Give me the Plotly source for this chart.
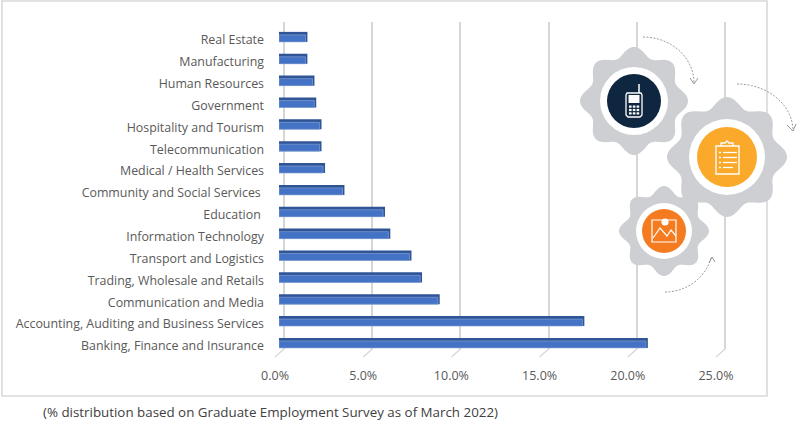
import math
import plotly.graph_objects as go

categories = ["Banking, Finance and Insurance", "Accounting, Auditing and Business Services",
              "Communication and Media", "Trading, Wholesale and Retails", "Transport and Logistics",
              "Information Technology", "Education\u00a0", "Community and Social Services\u00a0",
              "Medical / Health Services", "Telecommunication", "Hospitality and Tourism",
              "Government", "Human Resources", "Manufacturing", "Real Estate"]
values = [20.8, 17.2, 9.0, 8.0, 7.4, 6.2, 5.9, 3.6, 2.5, 2.3, 2.3, 2.0, 1.9, 1.5, 1.5]
tick_values = [0, 5, 10, 15, 20, 25]
tick_labels = ["0.0%", "5.0%", "10.0%", "15.0%", "20.0%", "25.0%"]
note = "(% distribution based on Graduate Employment Survey as of March 2022)"

W, H = 800, 425
FONT = "Open Sans"
def px(x): return x / W
def py(y): return 1 - y / H

PX_PER_UNIT = 17.64
def x_domain(left):
    return [px(left), px(left + 25 * PX_PER_UNIT)]

fig = go.Figure()
idx = list(range(len(categories)))
# carrier for the shifted grid (first subplot, so it sits under the bars)
fig.add_scatter(x=tick_values, y=[0] * 6, xaxis="x", mode="markers", marker_opacity=0,
                hoverinfo="skip", showlegend=False)
# carrier for the tick labels
fig.add_scatter(x=tick_values, y=[0] * 6, xaxis="x2", mode="markers", marker_opacity=0,
                hoverinfo="skip", showlegend=False)
# depth: rear (dark) face first, then the front face
fig.add_bar(y=idx, x=[v + 0.11 for v in values], xaxis="x3", orientation="h", width=0.46, offset=-0.09,
            marker=dict(color="#2F5597", line_width=0), hoverinfo="skip", showlegend=False)
fig.add_bar(y=idx, x=values, xaxis="x3", orientation="h", width=0.32, offset=-0.09,
            marker=dict(color="#4472C4", line=dict(color="#8FAADC", width=0.6)),
            name="Share", showlegend=False)

fig.update_layout(
    template="none",
    width=W, height=H, margin=dict(l=0, r=0, t=0, b=0, pad=0), autosize=False,
    paper_bgcolor="white", plot_bgcolor="rgba(0,0,0,0)", barmode="overlay",
    font=dict(family=FONT, color="#595959", size=12),
    xaxis3=dict(domain=x_domain(279), range=[0, 25], showgrid=False, zeroline=False, automargin=False,
                showticklabels=False, ticks="", anchor="y", showline=False),
    xaxis=dict(domain=[px(284 - PX_PER_UNIT), px(284 + 26 * PX_PER_UNIT)], range=[-1, 26], showgrid=True,
               gridcolor="#D6D6D6", automargin=False, gridwidth=1.5, zeroline=False, tickvals=tick_values,
               showticklabels=False, ticks="", anchor="y", showline=False),
    xaxis2=dict(domain=x_domain(275), range=[0, 25], showgrid=False, zeroline=False, automargin=False,
                tickvals=tick_values, ticktext=tick_labels, ticks="", anchor="y", showline=False,
                tickfont=dict(size=12.5, color="#595959"), ticklabelstandoff=17),
    yaxis=dict(domain=[py(349), py(22)], range=[-(349 - 346) / 21.86, (346 - 22) / 21.86],
               tickvals=idx, ticktext=categories, ticks="", showgrid=False, zeroline=False, automargin=False,
               showline=False, tickfont=dict(size=12.4, color="#595959"), ticklabelstandoff=15,
               anchor="free", position=px(279)),
)

shapes = []
def add(**k):
    k.setdefault("xref", "paper"); k.setdefault("yref", "paper")
    shapes.append(k)

def P(pts, close=False):
    s = "M " + " L ".join(f"{px(x):.5f} {py(y):.5f}" for x, y in pts)
    return s + (" Z" if close else "")

def line(pts, col="white", w=1.3, dash=None, close=False):
    ln = dict(color=col, width=w)
    if dash: ln["dash"] = dash
    add(type="path", path=P(pts, close), line=ln, layer="above")

def fill(pts, col):
    add(type="path", path=P(pts, True), fillcolor=col, line_width=0, layer="above")

def circle(cx, cy, r, col):
    add(type="circle", x0=px(cx - r), x1=px(cx + r), y0=py(cy + r), y1=py(cy - r),
        fillcolor=col, line_width=0, layer="above")

# frame
add(type="rect", x0=px(2), x1=px(767), y0=py(396), y1=py(1), line=dict(color="#D9D9D9", width=1.6),
    layer="below")

# feet of the gridlines
for v in tick_values:
    add(type="line", xref="x", xsizemode="pixel", xanchor=v, x0=-9, x1=0,
        y0=py(357), y1=py(349), line=dict(color="#D6D6D6", width=1.2), layer="below")

def gear(cx, cy, r_out, r_in, lobes=8):
    pts = []
    n = 240
    for i in range(n):
        a = 2 * math.pi * i / n
        k = (1 + math.cos(lobes * a)) / 2
        r = r_in + (r_out - r_in) * k
        pts.append((cx + r * math.sin(a), cy - r * math.cos(a)))
    fill(pts, "#CDCFD3")

def arc(cx, cy, rx, ry, a0, a1, n=30):
    return [(cx + rx * math.cos(math.radians(a0 + (a1 - a0) * i / n)),
             cy + ry * math.sin(math.radians(a0 + (a1 - a0) * i / n))) for i in range(n + 1)]

GR = "#999999"
line(arc(643, 83, 51, 46, -90, 0), GR, 1, "2px,1.5px")
line([(690, 78), (694, 84), (698, 78)], GR, 1)
line(arc(737, 131, 56, 47, -90, 0), GR, 1, "2px,1.5px")
line([(787, 125), (793, 131), (796, 124)], GR, 1)
line(arc(665, 245, 48, 47, 90, 15), GR, 1, "2px,1.5px")
line([(709, 263), (712, 257), (715, 262)], GR, 1)

gear(664, 231, 45, 37)
gear(634, 101, 54, 45)
gear(727, 157, 60, 50)

circle(634, 101, 34, "white"); circle(634, 101, 27, "#0E2640")
circle(727, 157, 38, "white"); circle(727, 157, 30, "#FBA92B")
circle(664, 231, 28, "white"); circle(664, 231, 22, "#F47B20")

# phone icon
line([(627, 93), (641, 93), (642, 95), (642, 115), (640, 117), (628, 117), (626, 115), (626, 95)], w=1.3, close=True)
line([(639, 93), (639, 84)], w=1.5)
fill([(628.5, 95), (639.5, 95), (639.5, 103), (628.5, 103)], "white")
for r in range(3):
    for c in range(3):
        x, y = 629 + c * 3.8, 105.5 + r * 3.4
        fill([(x, y), (x + 2.6, y), (x + 2.6, y + 2.2), (x, y + 2.2)], "white")

# clipboard icon
line([(716, 146), (739, 146), (739, 174), (716, 174)], w=1.3, close=True)
line([(721, 146), (721, 143), (725, 143), (727, 141), (729, 143), (733, 143), (733, 146)], w=1.3)
for i, w_ in enumerate([14, 14, 14, 10]):
    y = 152.5 + i * 5
    line([(719, y), (721, y)], w=1.3)
    line([(723, y), (723 + w_, y)], w=1.3)

# picture icon
line([(652, 220), (676, 220), (676, 242), (652, 242)], w=1.2, close=True)
line([(653, 238), (660, 228), (667, 236), (671, 230), (676, 236)], w=1.2)
circle(665, 222, 3.6, "white")

fig.update_layout(shapes=shapes)
fig.add_annotation(text=note, xref="paper", yref="paper", x=px(41), y=py(412), xanchor="left",
                   yanchor="middle", showarrow=False, font=dict(size=13.35, color="#404040", family=FONT))

fig.write_html("out.html", config=dict(displayModeBar=False), post_script="document.body.style.margin='0';")
